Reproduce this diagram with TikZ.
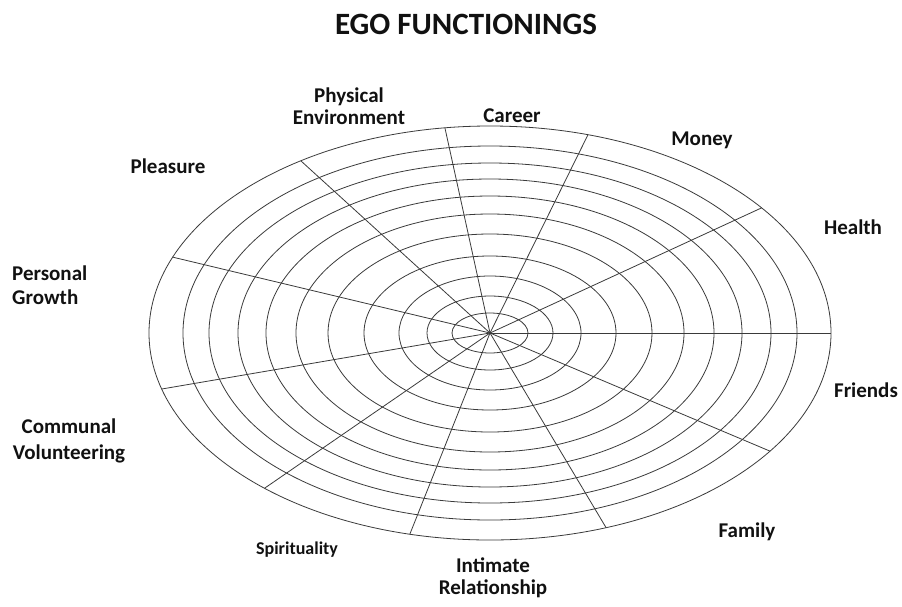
\documentclass[tikz,border=0pt]{standalone}
\usepackage{fontspec}
\setmainfont{Carlito}
\usepackage{xcolor}
\usepackage{tikz}
\usetikzlibrary{positioning}
\definecolor{wLine}{HTML}{3A3A3A}
\definecolor{wInk}{HTML}{111111}
\tikzset{
  ring/.style={draw=wLine, line width=0.8pt},
  spoke/.style={draw=wLine, line width=0.8pt},
  area/.style={font=\bfseries\fontsize{21}{22}\selectfont, text=wInk,
    align=center, inner sep=0pt},
}

\begin{document}
\begin{tikzpicture}[x=1pt, y=-1pt]
  \useasboundingbox (0,0) rectangle (902,606);
  \node[area, font=\bfseries\fontsize{31}{33}\selectfont] (title) at (466,24) {EGO FUNCTIONINGS};
  \coordinate (hub) at (490,333);
  % rings, inner to outer
  \foreach \rx/\ry in {38/20,63/37,91/57,126/77,162/99,194/119,224/137,252/154,281/170,307/187,341/207}
    \draw[ring] (hub) ellipse [x radius=\rx, y radius=\ry];
  % spokes from the hub out to the rim
  \foreach \t [count=\i] in {0,37.2,73.3,97.6,123.7,158.5,195.7,228.6,256.4,289.9,325.2}
    \draw[spoke] (hub) -- ({490+341*cos(\t)},{333-207*sin(\t)}) coordinate (rim\i);
  % sector labels
  \node[area] (careerLbl) at (512,116) {Career};
  \node[area] (moneyLbl) at (702,140) {Money};
  \node[area] (healthLbl) at (853,227) {Health};
  \node[area] (friendsLbl) at (866,390) {Friends};
  \node[area] (familyLbl) at (747,532) {Family};
  \node[area] (intimLbl) at (493,578) {Intimate\\Relationship};
  \node[area, font=\bfseries\fontsize{18}{20}\selectfont] (spiritLbl) at (297,550) {Spirituality};
  \node[area] (communalLbl) at (69,441) {Communal\\[4pt]Volunteering};
  \node[area, anchor=west, align=left] (growthLbl) at (12,285) {Personal\\[2pt]Growth};
  \node[area] (pleasureLbl) at (168,166) {Pleasure};
  \node[area] (envLbl) at (349,106) {Physical\\Environment};
\end{tikzpicture}
\end{document}
